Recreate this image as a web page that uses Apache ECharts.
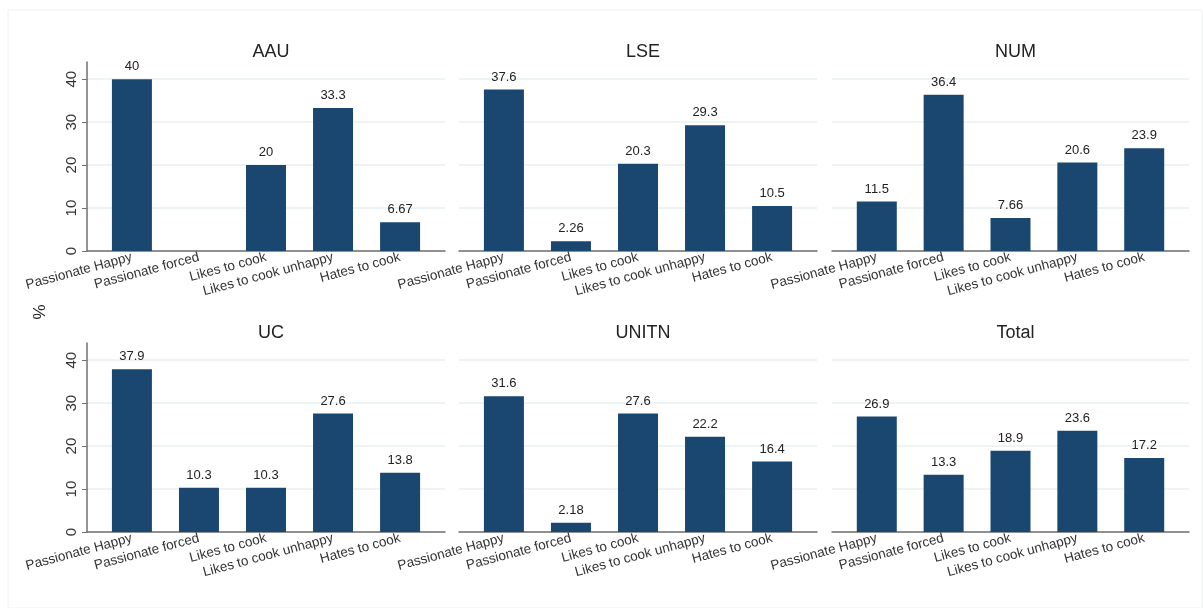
<!DOCTYPE html>
<html>
<head>
<meta charset="utf-8">
<title>Cooking attitudes by university</title>
<script src="https://cdn.jsdelivr.net/npm/echarts@6/dist/echarts.min.js"></script>
<style>
  html, body { margin: 0; padding: 0; background: #fff; }
  #chart { width: 1203px; height: 608px; }
</style>
</head>
<body>
<div id="chart"></div>
<script>
// categories on the x axis
const categories = ["Passionate Happy", "Passionate forced", "Likes to cook", "Likes to cook unhappy", "Hates to cook"];
const panelNames = ["AAU", "LSE", "NUM", "UC", "UNITN", "Total"];
const yTicks = [0, 10, 20, 30, 40];

// percentages per panel (null = no bar)
const aau = [40, null, 20, 33.3, 6.67];
const lse = [37.6, 2.26, 20.3, 29.3, 10.5];
const num = [11.5, 36.4, 7.66, 20.6, 23.9];
const uc = [37.9, 10.3, 10.3, 27.6, 13.8];
const unitn = [31.6, 2.18, 27.6, 22.2, 16.4];
const total = [26.9, 13.3, 18.9, 23.6, 17.2];

const panelValues = [aau, lse, num, uc, unitn, total];

const chart = echarts.init(document.getElementById("chart"));

const colLeft = [87, 459, 832];
const colWidth = [358, 358, 357];
const rowTop = [62, 343];
const plotHeight = 189;

const grids = [], xAxes = [], yAxes = [], series = [], titles = [];

panelNames.forEach((name, i) => {
  const col = i % 3;
  const row = Math.floor(i / 3);
  grids.push({
    left: colLeft[col],
    top: rowTop[row],
    width: colWidth[col],
    height: plotHeight,
    outerBoundsMode: "none",
  });
  titles.push({
    text: name,
    left: colLeft[col] + colWidth[col] / 2,
    top: rowTop[row] - 24,
    textAlign: "center",
    textStyle: { fontFamily: "Liberation Sans", fontSize: 18, fontWeight: "normal", color: "#222" },
  });
  xAxes.push({
    type: "value",
    gridIndex: i,
    min: 0.33,
    max: 5.67,
    axisLine: { show: true, lineStyle: { color: "#707070", width: 1.5 } },
    axisTick: { show: false },
    splitLine: { show: false },
    axisLabel: {
      customValues: [1, 2, 3, 4, 5],
      formatter: (v) => categories[Math.round(v) - 1],
      rotate: 15,
      margin: 6,
      fontFamily: "Liberation Sans",
      fontSize: 13.5,
      color: "#333",
    },
  });
  yAxes.push({
    type: "value",
    gridIndex: i,
    min: 0,
    max: 44,
    axisLine: { show: col === 0, lineStyle: { color: "#707070", width: 1.5 } },
    axisTick: { show: col === 0, customValues: yTicks, length: 5, lineStyle: { color: "#707070" } },
    axisLabel: {
      show: col === 0,
      customValues: yTicks,
      rotate: 90,
      margin: 8,
      fontFamily: "Liberation Sans",
      fontSize: 15,
      color: "#333",
    },
    splitLine: { show: true, lineStyle: { color: "#e9f0f2", width: 1.5 } },
  });
  const data = panelValues[i]
    .map((v, k) => [k + 1, v])
    .filter((d) => d[1] !== null);
  series.push({
    type: "bar",
    xAxisIndex: i,
    yAxisIndex: i,
    data: data,
    barWidth: 40,
    itemStyle: { color: "#1a476f" },
    label: {
      show: true,
      position: "top",
      distance: 6,
      formatter: (p) => String(p.value[1]),
      fontFamily: "Liberation Sans",
      fontSize: 13,
      color: "#222",
    },
  });
});

chart.setOption({
  animation: false,
  backgroundColor: "#fff",
  title: titles,
  grid: grids,
  xAxis: xAxes,
  yAxis: yAxes,
  series: series,
  graphic: [
    {
      type: "rect",
      shape: { x: 8, y: 10, width: 1194, height: 598 },
      style: { fill: "none", stroke: "#eef1f2", lineWidth: 1 },
      silent: true,
    },
    {
      type: "text",
      x: 40,
      y: 312,
      rotation: Math.PI / 2,
      style: { text: "%", fontFamily: "Liberation Sans", fontSize: 17, fill: "#222", align: "center", verticalAlign: "middle" },
    },
  ],
});
</script>
</body>
</html>
